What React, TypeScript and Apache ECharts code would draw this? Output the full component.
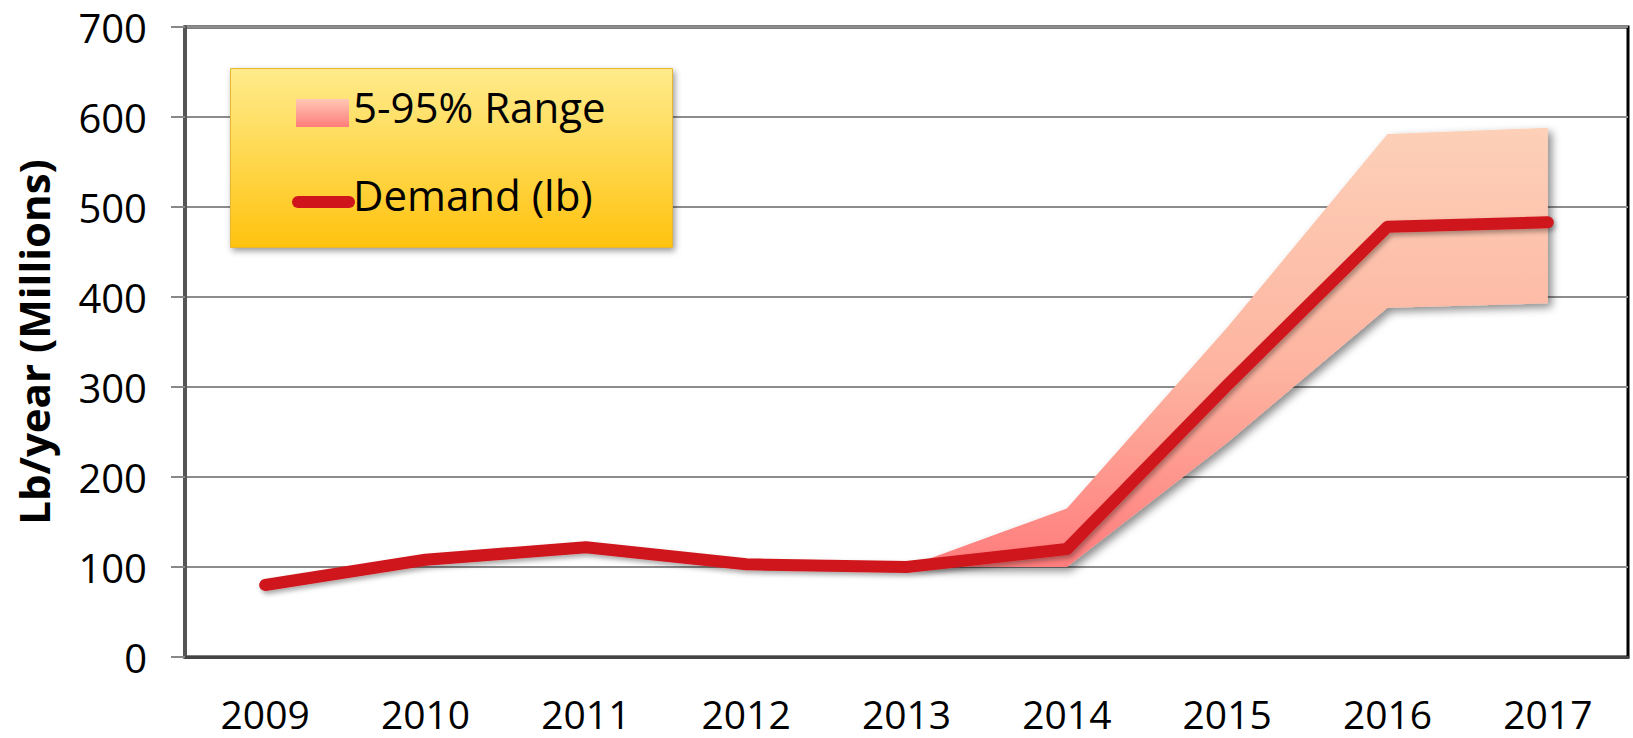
import React, { useEffect, useRef } from "react";
import * as echarts from "echarts";

const years = ["2009", "2010", "2011", "2012", "2013", "2014", "2015", "2016", "2017"];
const demand = [80, 108, 122, 103, 100, 120, 302, 478, 483];
const rangeLow: (number | string)[] = ["-", "-", "-", "-", 100, 100, 238, 388, 393];
const rangeHigh: (number | string)[] = ["-", "-", "-", "-", 100, 165, 366, 581, 588];
const yTicks = [0, 100, 200, 300, 400, 500, 600, 700];

const FONT = "'Open Sans', 'Liberation Sans', sans-serif";

export default function App() {
  const ref = useRef<HTMLDivElement>(null);
  useEffect(() => {
    document.body.style.margin = "0";
    const chart = echarts.init(ref.current!, null, { renderer: "svg" });
    const diff = rangeHigh.map((h, i) =>
      typeof h === "number" && typeof rangeLow[i] === "number" ? (h as number) - (rangeLow[i] as number) : "-"
    );
    chart.setOption({
      animation: false,
      backgroundColor: "#ffffff",
      textStyle: { fontFamily: FONT },
      grid: {
        left: 185,
        right: 5,
        top: 27,
        bottom: 81,
        show: true,
        borderColor: "#000000",
        borderWidth: 3,
        backgroundColor: "transparent",
      },
      xAxis: {
        type: "category",
        data: years,
        boundaryGap: true,
        axisLine: { show: true, lineStyle: { color: "#444", width: 3 } },
        axisTick: { show: false },
        axisLabel: { fontSize: 39, lineHeight: 30, color: "#000", margin: 41, fontFamily: FONT },
      },
      yAxis: {
        type: "value",
        min: yTicks[0],
        max: yTicks[yTicks.length - 1],
        interval: 100,
        name: "Lb/year (Millions)",
        nameLocation: "middle",
        nameGap: 131,
        nameTextStyle: { fontSize: 42, fontWeight: "bold", color: "#000", fontFamily: FONT },
        axisLine: { show: true, lineStyle: { color: "#555", width: 4 } },
        axisTick: { show: true, length: 14, lineStyle: { color: "#888", width: 2 } },
        axisLabel: { fontSize: 40, color: "#000", margin: 38, fontFamily: FONT },
        splitLine: { show: true, lineStyle: { color: "#8c8c8c", width: 2 } },
      },
      series: [
        {
          name: "low",
          type: "line",
          stack: "range",
          data: rangeLow,
          symbol: "none",
          lineStyle: { opacity: 0 },
          areaStyle: { opacity: 0 },
          silent: true,
          z: 2,
        },
        {
          name: "5-95% Range",
          type: "line",
          stack: "range",
          data: diff,
          symbol: "none",
          lineStyle: { opacity: 0 },
          areaStyle: {
            opacity: 1,
            color: new echarts.graphic.LinearGradient(0, 0, 0, 1, [
              { offset: 0, color: "#FDD0B8" },
              { offset: 0.55, color: "#FDB4A0" },
              { offset: 1, color: "#FF7D7D" },
            ]),
            shadowColor: "rgba(0,0,0,0.45)",
            shadowBlur: 8,
            shadowOffsetX: 4,
            shadowOffsetY: 4,
          },
          z: 3,
        },
        {
          name: "Demand (lb)",
          type: "line",
          data: demand,
          symbol: "none",
          lineStyle: {
            color: "#CF151B",
            width: 12,
            cap: "round",
            join: "round",
            shadowColor: "rgba(0,0,0,0.35)",
            shadowBlur: 5,
            shadowOffsetX: 2,
            shadowOffsetY: 3,
          },
          z: 4,
        },
      ],
      graphic: [
        {
          type: "rect",
          left: 230,
          top: 68,
          shape: { width: 442, height: 179 },
          style: {
            fill: new echarts.graphic.LinearGradient(0, 0, 0, 1, [
              { offset: 0, color: "#FFEB8C" },
              { offset: 0.5, color: "#FFD84E" },
              { offset: 1, color: "#FFC20F" },
            ]),
            stroke: "#E8B830",
            lineWidth: 1,
            shadowColor: "rgba(0,0,0,0.4)",
            shadowBlur: 6,
            shadowOffsetX: 2,
            shadowOffsetY: 3,
          },
          z: 100,
        },
        {
          type: "rect",
          left: 296,
          top: 99,
          shape: { width: 53, height: 28 },
          style: {
            fill: new echarts.graphic.LinearGradient(0, 0, 0, 1, [
              { offset: 0, color: "#FFC8B4" },
              { offset: 1, color: "#FF7C7C" },
            ]),
          },
          z: 101,
        },
        {
          type: "text",
          left: 353,
          top: 85,
          style: { text: "5-95% Range", fontSize: 42, fill: "#000", fontFamily: FONT },
          z: 101,
        },
        {
          type: "line",
          shape: { x1: 298, y1: 202, x2: 349, y2: 202 },
          style: { stroke: "#CF151B", lineWidth: 12, lineCap: "round" },
          z: 101,
        },
        {
          type: "text",
          left: 353,
          top: 173,
          style: { text: "Demand (lb)", fontSize: 42, fill: "#000", fontFamily: FONT },
          z: 101,
        },
      ],
    });
    return () => chart.dispose();
  }, []);
  return <div ref={ref} style={{ width: 1633, height: 738 }} />;
}
